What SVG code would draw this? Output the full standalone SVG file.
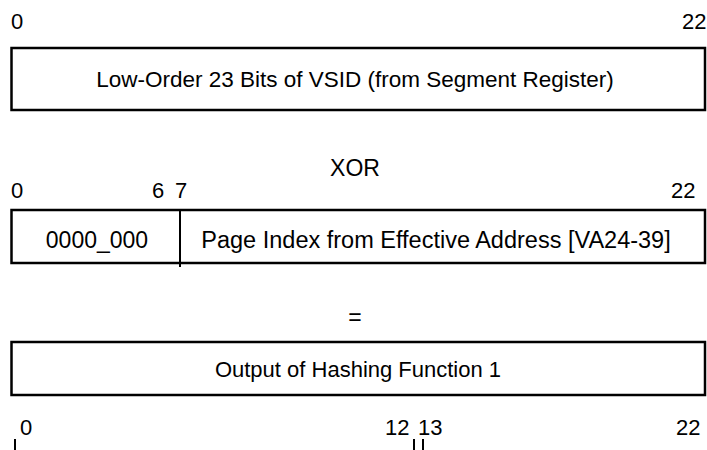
<svg xmlns="http://www.w3.org/2000/svg" width="707" height="450" viewBox="0 0 707 450">
<style>
text{font-family:"Liberation Sans",Arial,sans-serif;fill:#000}
.lbl{font-size:22px}
.t{font-size:23px;text-anchor:middle}
.box{fill:#fff;stroke:#000;stroke-width:2.5}
.ln{stroke:#000;stroke-width:2;fill:none}
</style>
<rect width="707" height="450" fill="#fff"/>
<g id="labels-top">
<text class="lbl" x="11" y="29">0</text>
<text class="lbl" x="682" y="29">22</text>
</g>
<g id="vsid">
<rect class="box" x="11.5" y="48" width="693.5" height="62"/>
<text class="t" x="355" y="87" style="font-size:22.5px">Low-Order 23 Bits of VSID (from Segment Register)</text>
</g>
<g id="xor"><text class="t" x="355" y="176">XOR</text></g>
<g id="labels-mid">
<text class="lbl" x="11" y="198">0</text>
<text class="lbl" x="152" y="198">6</text>
<text class="lbl" x="175" y="198">7</text>
<text class="lbl" x="671" y="198">22</text>
</g>
<g id="pageindex">
<rect class="box" x="11.5" y="210" width="693.5" height="53"/>
<text class="t" x="97" y="248">0000_000</text>
<text class="t" x="436" y="248" style="font-size:23.5px">Page Index from Effective Address [VA24-39]</text>
</g>
<g id="eq"><text class="t" x="355" y="325">=</text></g>
<g id="output">
<rect class="box" x="11.5" y="342" width="693.5" height="53"/>
<text class="t" x="358" y="377" style="font-size:22px">Output of Hashing Function 1</text>
</g>
<g id="labels-bot">
<text class="lbl" x="20" y="435">0</text>
<text class="lbl" x="385" y="435">12</text>
<text class="lbl" x="418" y="435">13</text>
<text class="lbl" x="676" y="435">22</text>
</g>
<g id="connectors">
<line class="ln" x1="180" y1="210" x2="180" y2="267"/>
<line class="ln" x1="15" y1="439" x2="15" y2="450"/>
<line class="ln" x1="414" y1="439" x2="414" y2="450"/>
<line class="ln" x1="423" y1="439" x2="423" y2="450"/>
</g>
</svg>
